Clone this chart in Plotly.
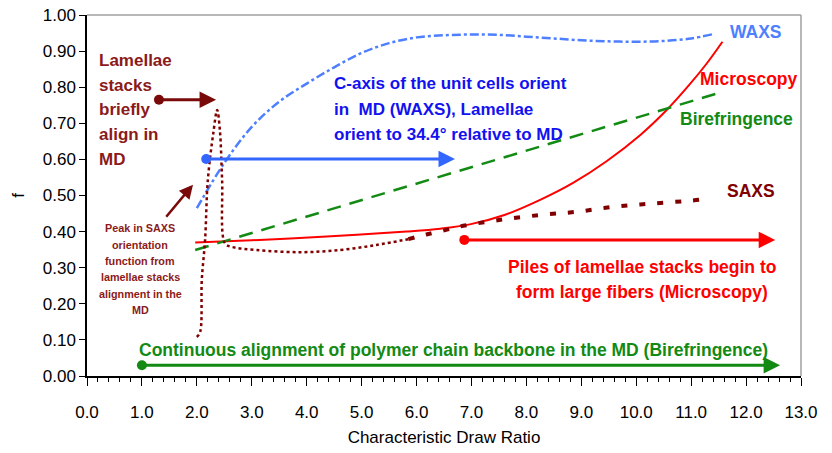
import plotly.graph_objects as go

# ---- data ----
waxs_x = [2.0, 2.5, 3.0, 3.5, 4.0, 4.5, 5.0, 5.5, 6.0, 6.5, 7.0, 7.5, 8.0, 8.5, 9.0, 9.5, 10.0, 10.5, 11.0, 11.4]
waxs_y = [0.465, 0.59, 0.69, 0.76, 0.81, 0.855, 0.895, 0.922, 0.938, 0.944, 0.946, 0.945, 0.94, 0.935, 0.93, 0.927, 0.926, 0.928, 0.935, 0.947]

micro_x = [1.97, 3.0, 3.7, 4.91, 5.82, 6.43, 6.97, 7.6, 8.25, 8.85, 9.46, 10.07, 10.55, 10.98, 11.28, 11.57]
micro_y = [0.370, 0.376, 0.381, 0.391, 0.400, 0.408, 0.420, 0.446, 0.488, 0.535, 0.595, 0.667, 0.736, 0.809, 0.865, 0.926]

biref_x = [1.97, 11.57]
biref_y = [0.349, 0.787]

saxs1_x = [2.0, 2.06, 2.09, 2.15, 2.2, 2.3, 2.37, 2.42, 2.46, 2.51, 2.63, 3.09, 3.88, 4.61, 5.27, 5.85]
saxs1_y = [0.108, 0.122, 0.266, 0.377, 0.543, 0.673, 0.737, 0.68, 0.543, 0.368, 0.358, 0.349, 0.343, 0.349, 0.363, 0.379]
saxs2_x = [5.85, 6.18, 6.52, 6.85, 7.5, 8.25, 8.92, 9.61, 10.31, 11.01, 11.34]
saxs2_y = [0.379, 0.392, 0.404, 0.416, 0.432, 0.446, 0.455, 0.469, 0.478, 0.486, 0.492]

x_ticks = [i * 1.0 for i in range(14)]
y_ticks = [i / 10 for i in range(11)]

FONT = "Liberation Sans, Arial, sans-serif"
DARKRED = "#8b1a1a"
SAXSC = "#800000"
WAXSC = "#4d7fff"
BLUE = "#1212f0"
ARROWBLUE = "#3366ff"
RED = "#ff0000"
GREEN = "#138a13"

fig = go.Figure()
fig.add_trace(go.Scatter(x=waxs_x, y=waxs_y, mode="lines", line=dict(color=WAXSC, width=2.5, dash="dashdot", shape="spline")))
fig.add_trace(go.Scatter(x=micro_x, y=micro_y, mode="lines", line=dict(color=RED, width=2, shape="spline", smoothing=1)))
fig.add_trace(go.Scatter(x=biref_x, y=biref_y, mode="lines", line=dict(color=GREEN, width=2.5, dash="14px,9px")))
fig.add_trace(go.Scatter(x=saxs1_x, y=saxs1_y, mode="lines", line=dict(color=SAXSC, width=2.5, dash="dot", shape="spline")))
fig.add_trace(go.Scatter(x=saxs2_x, y=saxs2_y, mode="lines", line=dict(color=SAXSC, width=4, dash="6px,12px", shape="spline")))

# arrows: (start_x, start_y, end_x, end_y, color)
arrows = [
    (1.31, 0.765, 2.35, 0.765, "#7a0a0a"),
    (2.17, 0.601, 6.7, 0.601, ARROWBLUE),
    (6.87, 0.377, 12.53, 0.377, RED),
    (1.0, 0.03, 12.62, 0.03, GREEN),
]
for sx, sy, ex, ey, c in arrows:
    fig.add_trace(go.Scatter(x=[sx], y=[sy], mode="markers", marker=dict(color=c, size=10)))
    fig.add_annotation(x=ex, y=ey, ax=sx, ay=sy, xref="x", yref="y", axref="x", ayref="y",
                       showarrow=True, arrowhead=2, arrowsize=1.1, arrowwidth=3, arrowcolor=c, text="")
# small diagonal arrow
fig.add_annotation(x=1.93, y=0.53, ax=1.42, ay=0.437, xref="x", yref="y", axref="x", ayref="y",
                   showarrow=True, arrowhead=2, arrowsize=1.1, arrowwidth=2.5, arrowcolor="#7a0a0a", text="")

W, H = 832, 453
ml, mr, mt, mb = 87, 31, 15, 77
pw, ph = W - ml - mr, H - mt - mb

def txt(px, py, s, color, size, xanchor="left"):
    # px, py in page pixels (layout placement of text labels)
    fig.add_annotation(x=(px - ml) / pw, y=1 - (py - mt) / ph, xref="paper", yref="paper",
                       text="<b>" + s + "</b>", showarrow=False,
                       font=dict(family=FONT, size=size, color=color),
                       xanchor=xanchor, yanchor="middle", align=xanchor if xanchor != "center" else "center")

def block(px, ys, lines, color, size, xanchor="left"):
    for yy, s in zip(ys, lines):
        txt(px, yy, s, color, size, xanchor)

block(97, [60, 85, 110, 135, 160], ["Lamellae", "stacks", "briefly", "align in", "MD"], DARKRED, 17)
block(332, [84, 110, 135], ["C-axis of the unit cells orient", "in  MD (WAXS), Lamellae", "orient to 34.4° relative to MD"], BLUE, 17)
txt(728, 32, "WAXS", WAXSC, 17.5)
txt(698, 79, "Microscopy", RED, 17.5)
txt(678, 119, "Birefringence", GREEN, 17.5)
txt(725, 191, "SAXS", SAXSC, 17.5)
block(642, [267, 292], ["Piles of lamellae stacks begin to", "form large fibers (Microscopy)"], RED, 17.5, "center")
txt(137, 350, "Continuous alignment of polymer chain backbone in the MD (Birefringence)", GREEN, 17.5)
block(140, [228, 245, 261, 277, 294, 310],
      ["Peak in SAXS", "orientation", "function from", "lamellae stacks", "alignment in the", "MD"], DARKRED, 10.8, "center")

fig.update_layout(
    width=W, height=H, autosize=False,
    margin=dict(l=ml, r=mr, t=mt, b=mb, autoexpand=False),
    paper_bgcolor="white", plot_bgcolor="white",
    showlegend=False,
    font=dict(family=FONT, size=17, color="black"),
    xaxis=dict(range=[0, 13], tickmode="array", tickvals=x_ticks, ticktext=[f"{v:.1f}" for v in x_ticks],
               automargin=False,
               showgrid=False, zeroline=False, showline=True, linecolor="black", linewidth=1.5,
               ticks="outside", ticklen=8, tickcolor="black", tickwidth=1.2, ticklabelstandoff=12,
               minor=dict(dtick=0.2, ticks="outside", ticklen=4, tickcolor="black", tickwidth=1),
               title=dict(text="Characteristic Draw Ratio", font=dict(size=17), standoff=10),
               tickfont=dict(size=17)),
    yaxis=dict(range=[0, 1], tickmode="array", tickvals=y_ticks, ticktext=[f"{v:.2f}" for v in y_ticks],
               automargin=False,
               showgrid=False, zeroline=False, showline=True, linecolor="black", linewidth=1.5,
               ticks="outside", ticklen=6, tickcolor="black", tickwidth=1.2,
               title=dict(text="f", font=dict(size=17), standoff=14), tickfont=dict(size=17)),
)
# grey box top/right
fig.add_shape(type="line", xref="paper", yref="paper", x0=0, x1=1, y0=1, y1=1, line=dict(color="#a0a0a0", width=1.5))
fig.add_shape(type="line", xref="paper", yref="paper", x0=1, x1=1, y0=0, y1=1, line=dict(color="#a0a0a0", width=1.5))

fig.write_html("out.html")
